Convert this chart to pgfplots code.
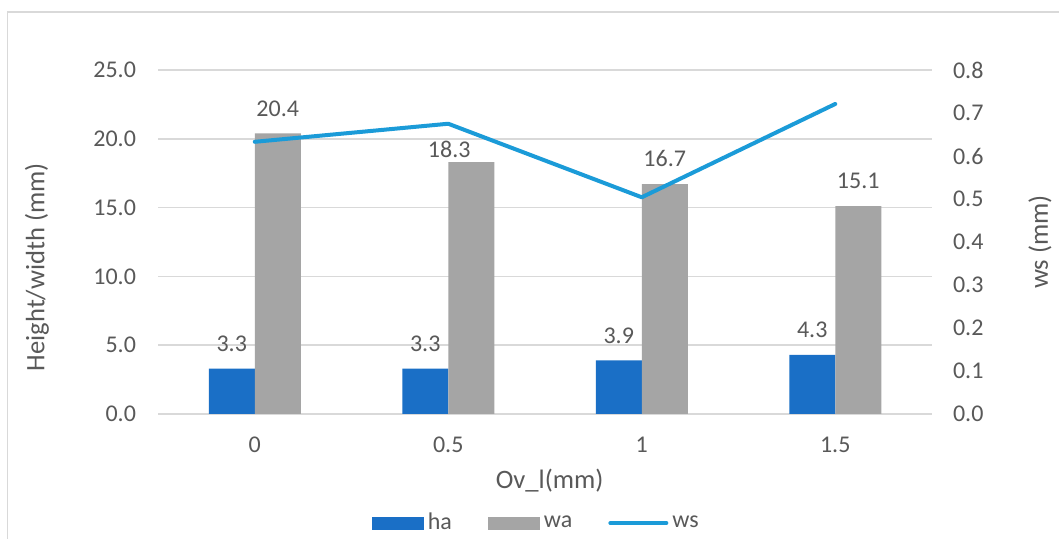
\documentclass[border=0pt]{standalone}
\usepackage{fontspec}
\setmainfont{Carlito}
\usepackage{pgfplots}
\pgfplotsset{compat=1.18}
\definecolor{haBlue}{HTML}{1A6FC6}
\definecolor{waGray}{HTML}{A5A5A5}
\definecolor{wsBlue}{HTML}{1B9BD8}
\definecolor{gridGray}{HTML}{D9D9D9}
\definecolor{txtGray}{HTML}{595959}

\pgfplotsset{
  common/.style={
    scale only axis, width=387pt, height=172pt,
    at={(79pt,62.5pt)}, anchor=south west,
    xmin=-0.5, xmax=3.5,
    axis line style={draw=none}, major tick length=0pt,
    tick label style={font=\fontsize{12}{14}\selectfont, text=txtGray},
    label style={font=\fontsize{13.3}{16}\selectfont, text=txtGray},
    /pgf/number format/assume math mode=true,
    /pgf/number format/fixed,
    /pgf/number format/fixed zerofill,
    /pgf/number format/precision=1,
  },
}

% wa values with a per-label offset (pt)
\pgfplotstableread{
x  wa    dx   dy
0  20.4  0    0
1  18.3  -11  -6.5
2  16.7  0    0
3  15.1  0    0
}\wadata

\begin{document}
\begin{tikzpicture}
\useasboundingbox (0,0) rectangle (529.5pt,269.5pt);
\fill[white] (0,0) rectangle (529.5pt,269.5pt);
\draw[gridGray, line width=0.7pt] (3.7pt,-2pt) -- (3.7pt,263.5pt) -- (532pt,263.5pt);

% bars on the left axis
\begin{axis}[common,
  ybar=0pt, bar width=23pt,
  ymin=0, ymax=25, ytick={0,5,10,15,20,25},
  ymajorgrids, grid style={gridGray, line width=0.75pt},
  xtick={0,1,2,3}, xticklabels={0,0.5,1,1.5},
  xticklabel style={yshift=-8pt},
  yticklabel style={xshift=-7.5pt},
  xlabel={Ov\_l(mm)},
  xlabel style={at={(axis description cs:0.506,-0.195)}, anchor=center},
  ylabel={Height/width (mm)},
  ylabel style={at={(axis description cs:-0.1563,0.427)}, anchor=center},
  nodes near coords,
  every node near coord/.append style={font=\fontsize{12}{14}\selectfont, text=txtGray, yshift=5pt},
  legend columns=3,
  legend style={at={(axis description cs:0.49,-0.317)}, anchor=center,
    draw=none, fill=none, font=\fontsize{12}{14}\selectfont, text=txtGray,
    /tikz/every even column/.append style={column sep=16pt}},
]
\addplot[fill=haBlue, draw=none,
  legend image code/.code={\fill[haBlue] (0pt,-3.25pt) rectangle (26pt,3.25pt);}]
  coordinates {(0,3.3) (1,3.3) (2,3.9) (3,4.3)};
\addlegendentry{ha}
\addplot[fill=waGray, draw=none,
  visualization depends on={\thisrow{dx} \as \labdx},
  visualization depends on={\thisrow{dy} \as \labdy},
  nodes near coords style={xshift=\labdx pt, yshift=\labdy pt},
  legend image code/.code={\fill[waGray] (0pt,-3.25pt) rectangle (26pt,3.25pt);}]
  table[x=x, y=wa] {\wadata};
\addlegendentry{wa}
\addlegendimage{legend image code/.code={\draw[wsBlue, line width=2pt, line cap=round] (0pt,0pt) -- (28pt,0pt);}}
\addlegendentry{ws}
\end{axis}

% line on the right axis
\begin{axis}[common,
  ymin=0, ymax=0.8, ytick={0,0.1,0.2,0.3,0.4,0.5,0.6,0.7,0.8},
  axis y line*=right, hide x axis,
  y axis line style={draw=none},
  yticklabel style={xshift=7pt},
  ylabel={ws (mm)},
  ylabel style={at={(axis description cs:1.1395,0.5)}, anchor=center},
]
\addplot[wsBlue, line width=2pt, line cap=round, line join=round, mark=none]
  coordinates {(0,0.633) (1,0.675) (2,0.504) (3,0.721)};
\end{axis}
\end{tikzpicture}
\end{document}
